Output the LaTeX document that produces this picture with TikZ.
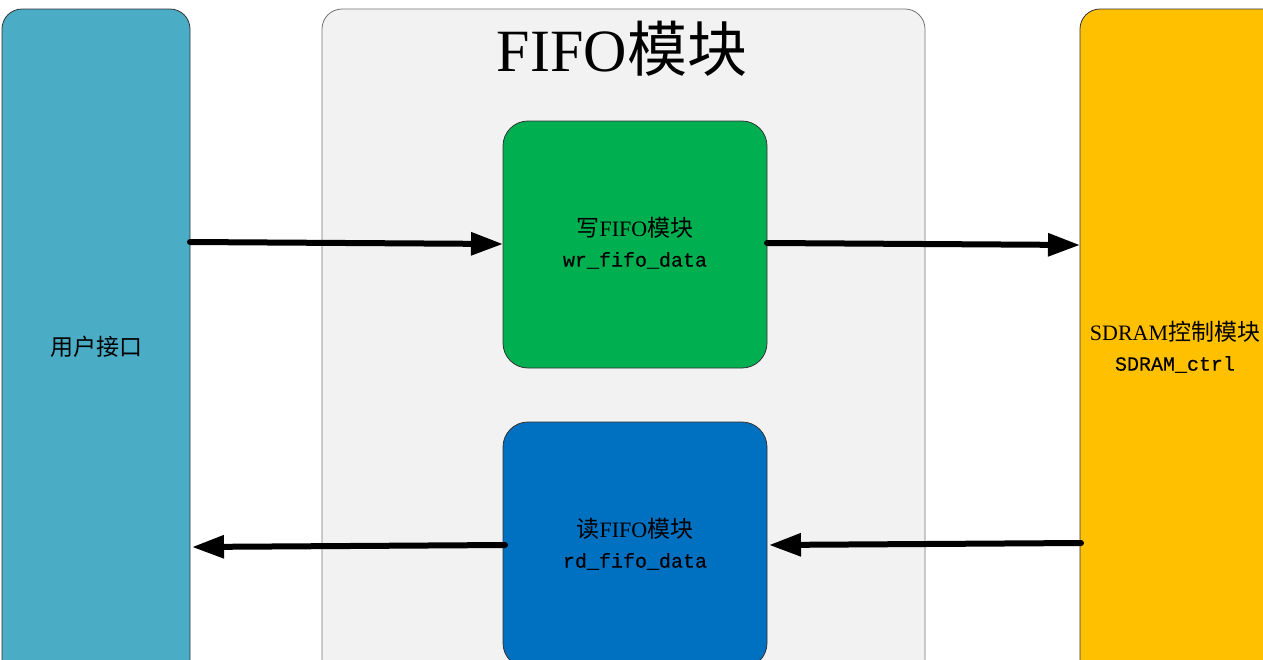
\documentclass[tikz,border=0pt]{standalone}
\usepackage{fontspec}
\setmainfont{Liberation Serif}
\setmonofont[FakeBold=0.3]{Liberation Mono}
\newfontfamily\cjk{Noto Sans CJK SC}
\newcommand{\zh}[1]{{\cjk\fontsize{23pt}{30pt}\selectfont #1}}
\newcommand{\lat}[1]{{\fontsize{22pt}{30pt}\selectfont #1}}
\usetikzlibrary{arrows.meta}
\definecolor{userblue}{HTML}{4BACC6}
\definecolor{fifogray}{HTML}{F2F2F2}
\definecolor{wrgreen}{HTML}{00B050}
\definecolor{rdblue}{HTML}{0070C0}
\definecolor{sdorange}{HTML}{FFC000}
\tikzset{
  blockbox/.style={draw=black!80, line width=0.8pt, rounded corners=#1},
  blockbox/.default=20pt,
  bigarrow/.style={line width=6pt, line cap=round, -{Triangle[length=32pt,width=22pt]}},
  lbl/.style={font=\fontsize{20pt}{30pt}\selectfont, align=center, inner sep=0pt}
}
\begin{document}
\begin{tikzpicture}[x=1pt,y=-1pt]
\useasboundingbox (0,0) rectangle (1263,659);
\clip (0,0) rectangle (1263,659);
\fill[white] (0,0) rectangle (1263,659);
% user interface
\draw[blockbox, fill=userblue] (2,9) rectangle (190,720);
\node[lbl] (user) at (96,347) {\zh{用户接口}};
% FIFO container
\draw[blockbox, draw=black!55, fill=fifogray] (322,9) rectangle (925,720);
\node[inner sep=0pt, font=\fontsize{60pt}{60pt}\selectfont] (title) at (622,49) {FIFO{\cjk 模块}};
% write fifo
\draw[blockbox=25pt, fill=wrgreen] (503,121) rectangle (767,368);
\coordinate (wrW) at (503,244);
\coordinate (wrE) at (767,243);
\node[lbl] (wr) at (635,243) {\zh{写}\lat{FIFO}\zh{模块}\\\texttt{wr\_fifo\_data}};
% read fifo
\draw[blockbox=25pt, fill=rdblue] (503,422) rectangle (767,668);
\coordinate (rdW) at (505,545);
\coordinate (rdE) at (769,545);
\node[lbl] (rd) at (635,544) {\zh{读}\lat{FIFO}\zh{模块}\\\texttt{rd\_fifo\_data}};
% sdram
\draw[blockbox, fill=sdorange] (1080,9) rectangle (1300,720);
\node[lbl] (sd) at (1175,347) {\lat{SDRAM}\zh{控制模块}\\\texttt{SDRAM\_ctrl}};
% connector end points
\coordinate (uE1) at (190,242);
\coordinate (uE2) at (192,547);
\coordinate (sW1) at (1080,245);
\coordinate (sW2) at (1081,543);
\draw[bigarrow] (uE1) -- (wrW);
\draw[bigarrow] (wrE) -- (sW1);
\draw[bigarrow] (sW2) -- (rdE);
\draw[bigarrow] (rdW) -- (uE2);
\end{tikzpicture}
\end{document}
